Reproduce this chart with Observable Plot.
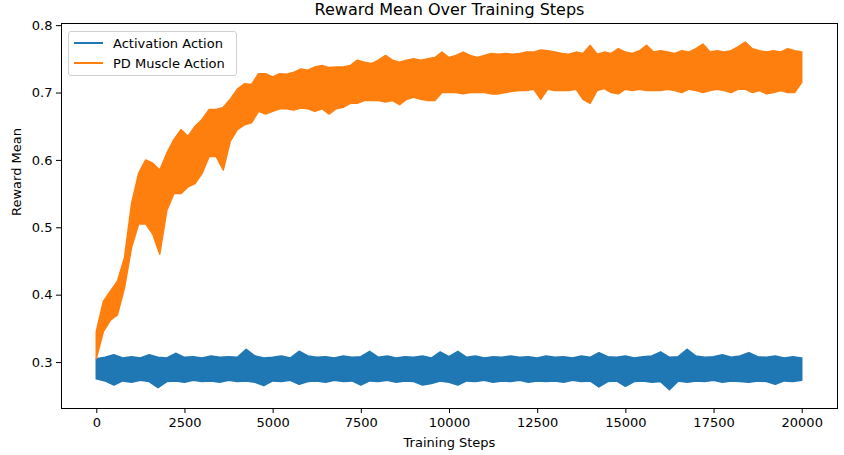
<!DOCTYPE html>
<html>
<head>
<meta charset="utf-8">
<script src="https://cdn.jsdelivr.net/npm/d3@7"></script>
<script src="https://cdn.jsdelivr.net/npm/@observablehq/plot@0.6"></script>
<style>
  body { margin: 0; background: #fff; font-family: "DejaVu Sans", sans-serif; }
  #wrap { position: relative; width: 844px; height: 455px; }
  #legend { position: absolute; left: 68px; top: 31px; width: 169px; height: 45px; box-sizing: border-box;
    border: 1px solid #d0d0d0; border-radius: 3px; background: rgba(255,255,255,0.8); font-size: 13px; color: #000; }
  .entry { position: absolute; left: 5px; height: 16px; display: flex; align-items: center; }
  .swatch { width: 29px; height: 2px; margin-right: 10px; }
</style>
</head>
<body>
<div id="wrap"></div>
<script>
const title = "Reward Mean Over Training Steps";
const xLabel = "Training Steps";
const yLabel = "Reward Mean";
const seriesNames = ["Activation Action", "PD Muscle Action"];
const seriesColors = ["#1f77b4", "#ff7f0e"];
const xTicks = [0, 2500, 5000, 7500, 10000, 12500, 15000, 17500, 20000];
const yTicks = [0.3, 0.4, 0.5, 0.6, 0.7, 0.8];

// PD Muscle Action: envelope (low / high) of the noisy curve, read every 200 steps
const pdSteps = [0,200,400,600,800,1000,1200,1400,1600,1800,2000,2200,2400,2600,2800,3000,3200,3400,3600,3800,
  4000,4200,4400,4600,4800,5000,5200,5400,5600,5800,6000,6200,6400,6600,6800,7000,7200,7400,7600,7800,
  8000,8200,8400,8600,8800,9000,9200,9400,9600,9800,10000,10200,10400,10600,10800,11000,11200,11400,11600,11800,
  12000,12200,12400,12600,12800,13000,13200,13400,13600,13800,14000,14200,14400,14600,14800,15000,15200,15400,15600,15800,
  16000,16200,16400,16600,16800,17000,17200,17400,17600,17800,18000,18200,18400,18600,18800,19000,19200,19400,19600,19800,20000];
const pdHigh = [0.345,0.39,0.405,0.42,0.455,0.535,0.58,0.60,0.595,0.585,
  0.61,0.63,0.645,0.635,0.65,0.66,0.675,0.675,0.678,0.69,
  0.705,0.713,0.712,0.728,0.728,0.723,0.728,0.727,0.73,0.735,
  0.733,0.738,0.74,0.737,0.738,0.738,0.74,0.748,0.745,0.743,
  0.748,0.755,0.748,0.745,0.748,0.75,0.748,0.75,0.752,0.76,
  0.752,0.755,0.76,0.755,0.752,0.755,0.758,0.757,0.758,0.757,
  0.758,0.76,0.76,0.763,0.762,0.76,0.758,0.757,0.76,0.758,
  0.77,0.757,0.76,0.758,0.765,0.76,0.758,0.762,0.77,0.76,
  0.762,0.76,0.758,0.762,0.76,0.765,0.772,0.76,0.762,0.76,
  0.762,0.768,0.775,0.765,0.762,0.76,0.762,0.76,0.765,0.762,0.76];
const pdLow = [0.305,0.345,0.362,0.37,0.41,0.47,0.505,0.505,0.49,0.46,
  0.525,0.55,0.55,0.56,0.565,0.58,0.605,0.605,0.585,0.628,
  0.645,0.652,0.655,0.672,0.668,0.672,0.676,0.676,0.674,0.677,
  0.676,0.672,0.676,0.668,0.676,0.678,0.684,0.684,0.688,0.688,
  0.688,0.686,0.688,0.682,0.69,0.693,0.69,0.688,0.688,0.70,
  0.70,0.70,0.698,0.70,0.70,0.70,0.698,0.698,0.70,0.702,
  0.703,0.703,0.705,0.69,0.705,0.703,0.703,0.703,0.705,0.69,
  0.684,0.703,0.706,0.70,0.698,0.705,0.703,0.705,0.703,0.703,
  0.703,0.705,0.703,0.70,0.705,0.703,0.70,0.703,0.705,0.703,
  0.70,0.705,0.705,0.70,0.703,0.698,0.70,0.703,0.70,0.70,0.715];

// Activation Action: envelope (low / high) read every 250 steps
const actSteps = [0,250,500,750,1000,1250,1500,1750,2000,2250,2500,2750,3000,3250,3500,3750,4000,4250,4500,4750,
  5000,5250,5500,5750,6000,6250,6500,6750,7000,7250,7500,7750,8000,8250,8500,8750,9000,9250,9500,9750,
  10000,10250,10500,10750,11000,11250,11500,11750,12000,12250,12500,12750,13000,13250,13500,13750,14000,14250,14500,14750,
  15000,15250,15500,15750,16000,16250,16500,16750,17000,17250,17500,17750,18000,18250,18500,18750,19000,19250,19500,19750,20000];
const actHigh = [0.305,0.307,0.311,0.306,0.308,0.306,0.311,0.307,0.306,0.313,
  0.307,0.308,0.306,0.309,0.307,0.308,0.307,0.319,0.309,0.306,
  0.307,0.309,0.306,0.316,0.309,0.307,0.308,0.306,0.309,0.307,
  0.308,0.316,0.307,0.309,0.306,0.308,0.307,0.309,0.306,0.315,
  0.308,0.316,0.307,0.309,0.306,0.308,0.307,0.309,0.307,0.308,
  0.306,0.309,0.307,0.308,0.306,0.309,0.307,0.314,0.308,0.307,
  0.309,0.306,0.308,0.309,0.315,0.307,0.308,0.319,0.309,0.307,
  0.308,0.311,0.307,0.309,0.314,0.308,0.307,0.309,0.306,0.308,0.306];
const actLow = [0.275,0.272,0.266,0.272,0.270,0.273,0.271,0.262,0.271,0.272,
  0.270,0.273,0.271,0.272,0.270,0.273,0.271,0.272,0.270,0.265,
  0.272,0.271,0.273,0.267,0.271,0.272,0.270,0.273,0.271,0.272,
  0.266,0.272,0.271,0.273,0.270,0.272,0.271,0.266,0.268,0.272,
  0.270,0.266,0.272,0.271,0.273,0.270,0.272,0.271,0.273,0.270,
  0.272,0.271,0.272,0.270,0.273,0.271,0.272,0.263,0.271,0.272,
  0.264,0.271,0.272,0.270,0.271,0.259,0.272,0.270,0.272,0.271,
  0.273,0.270,0.272,0.271,0.270,0.272,0.271,0.267,0.272,0.271,0.273];

const pd = pdSteps.map((s, i) => ({step: s, lo: pdLow[i], hi: pdHigh[i]}));
const act = actSteps.map((s, i) => ({step: s, lo: actLow[i], hi: actHigh[i]}));

const font = "DejaVu Sans";
const chart = Plot.plot({
  width: 844,
  height: 455,
  marginTop: 23,
  marginBottom: 47,
  marginLeft: 61,
  marginRight: 7,
  style: {fontFamily: font, fontSize: "13px", background: "#fff", color: "#000"},
  x: {domain: [-1000, 21000]},
  y: {domain: [0.2318, 0.8032]},
  marks: [
    Plot.areaY(act, {x: "step", y1: "lo", y2: "hi", fill: seriesColors[0], stroke: seriesColors[0], strokeWidth: 1.5, strokeLinejoin: "round"}),
    Plot.areaY(pd, {x: "step", y1: "lo", y2: "hi", fill: seriesColors[1], stroke: seriesColors[1], strokeWidth: 1.5, strokeLinejoin: "round"}),
    Plot.frame({stroke: "#000", strokeWidth: 1}),
    Plot.axisX({ticks: xTicks, tickFormat: d => String(d), tickSize: 5, tickPadding: 4, label: null, fontSize: 13}),
    Plot.axisY({ticks: yTicks, tickFormat: d => d.toFixed(1), tickSize: 5, tickPadding: 4, label: null, fontSize: 13}),
    Plot.text([title], {frameAnchor: "top", dy: -14, text: d => d, fontSize: 16, lineAnchor: "middle", fill: "#000"}),
    Plot.text([xLabel], {frameAnchor: "bottom", dy: 34, text: d => d, fontSize: 13, lineAnchor: "middle", fill: "#000"}),
    Plot.text([yLabel], {frameAnchor: "left", dx: -45, text: d => d, fontSize: 13, rotate: -90, lineAnchor: "middle", fill: "#000"})
  ]
});

const wrap = document.getElementById("wrap");
wrap.appendChild(chart);

const legend = document.createElement("div");
legend.id = "legend";
seriesNames.forEach((name, i) => {
  const e = document.createElement("div");
  e.className = "entry";
  e.style.top = (3 + i * 20) + "px";
  const sw = document.createElement("div");
  sw.className = "swatch";
  sw.style.background = seriesColors[i];
  const t = document.createElement("span");
  t.textContent = name;
  e.appendChild(sw);
  e.appendChild(t);
  legend.appendChild(e);
});
wrap.appendChild(legend);
</script>
</body>
</html>
